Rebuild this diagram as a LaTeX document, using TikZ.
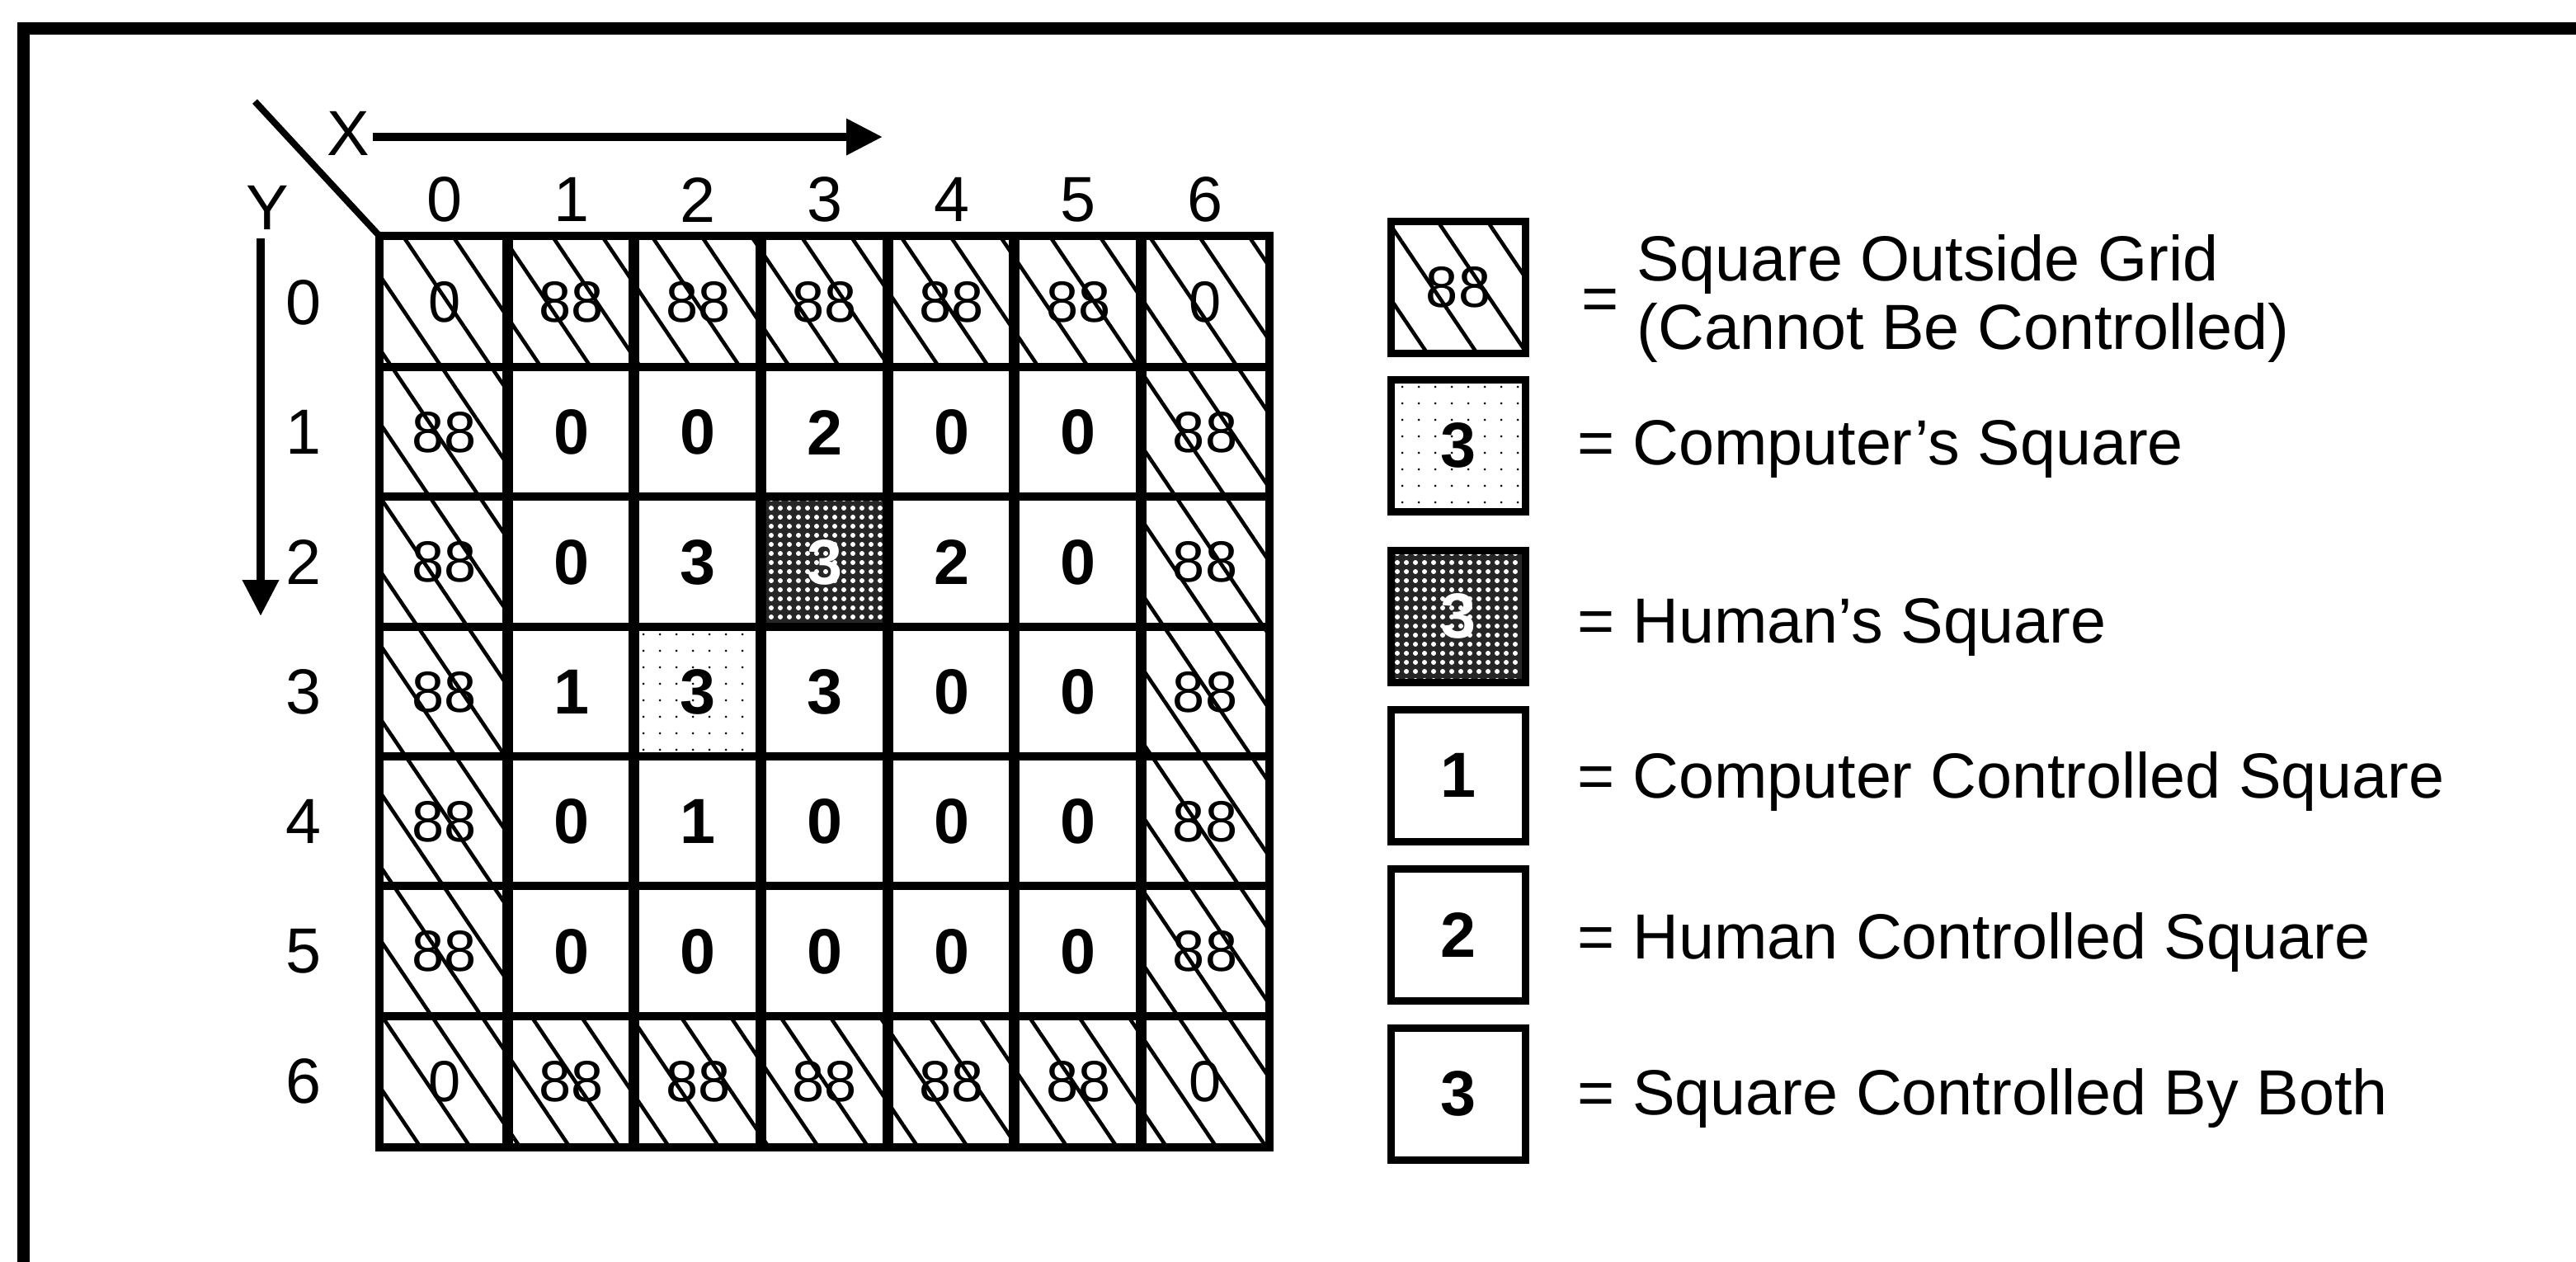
\documentclass[tikz,border=0pt]{standalone}
\usepackage{fontspec}
\setmainfont{Liberation Sans}
\usetikzlibrary{arrows.meta, patterns.meta}

\begin{document}
\begin{tikzpicture}[x=1cm, y=-1cm,
      lbl/.style={font=\fontsize{22}{24}\selectfont, inner sep=0pt},
      rim/.style={minimum width=15.37mm, minimum height=15.74mm, inner sep=0pt,
                  pattern={Lines[angle=-56, distance=5mm, line width=1.3pt]},
                  font=\fontsize{20}{22}\selectfont},
      own/.style={minimum width=15.37mm, minimum height=15.74mm, inner sep=0pt,
                  font=\fontsize{22}{24}\selectfont\bfseries},
      comp/.style={own, pattern={Dots[distance=2mm, radius=0.15mm]}},
      human/.style={own, preaction={fill=black!85},
                    pattern={Dots[distance=1.1mm, radius=0.3mm]},
                    pattern color=white, text=white},
      keybox/.style={draw, line width=0.9mm, minimum width=16.3mm,
                     minimum height=16mm, inner sep=0pt},
      arr/.style={line width=1mm, -{Triangle[length=4.4mm, width=4.2mm]}}]
    \useasboundingbox (0,0) rectangle (31.23,15.29);
    % frame
    \draw[line width=1.5mm] (0.28,15.5) -- (0.28,0.34) -- (31.5,0.34);

    % the board
    \foreach \r [count=\y from 0] in {{0,88,88,88,88,88,0},{88,0,0,2,0,0,88},
        {88,0,3,3,2,0,88},{88,1,3,3,0,0,88},{88,0,1,0,0,0,88},
        {88,0,0,0,0,0,88},{0,88,88,88,88,88,0}}
      \foreach \v [count=\x from 0] in \r {
        \pgfmathtruncatemacro{\onrim}{(\x==0)||(\x==6)||(\y==0)||(\y==6)}
        \ifnum\onrim=1 \def\kind{rim}\else\def\kind{own}\fi
        \ifnum\x\y=32 \def\kind{human}\fi
        \ifnum\x\y=23 \def\kind{comp}\fi
        \node[\kind] (c\x\y) at ({4.62+(\x+0.5)*1.537}, {2.88+(\y+0.5)*1.574}) {\v};
      }
    \foreach \i in {1,...,6}
      \draw[line width=1.3mm] (c\i0.north west) -- (c\i6.south west);
    \foreach \j in {1,...,6}
      \draw[line width=1mm] (c0\j.north west) -- (c6\j.north east);
    \draw[line width=1mm] (c00.north west) rectangle (c66.south east);

    % axes
    \foreach \i in {0,...,6} {
      \node[lbl] (col\i) at ({4.62+(\i+0.5)*1.537}, 2.42) {\i};
      \node[lbl] (row\i) at (3.68, {2.88+(\i+0.5)*1.574}) {\i};
    }
    \node[lbl] (xl) at (4.22,1.62) {X};
    \node[lbl] (yl) at (3.24,2.52) {Y};
    \coordinate (xa) at (4.52,1.66);
    \coordinate (xb) at (10.70,1.66);
    \coordinate (ya) at (3.16,2.89);
    \coordinate (yb) at (3.16,7.47);
    \coordinate (corner) at (3.09,1.23);
    \draw[arr] (xa) -- (xb);
    \draw[arr] (ya) -- (yb);
    \draw[line width=0.8mm] (corner) -- (c00.north west);

    % legend
    \node[rim, keybox]   (k1) at (17.68,3.48)  {88};
    \node[comp, keybox]  (k2) at (17.68,5.40)  {3};
    \node[human, keybox] (k3) at (17.68,7.47)  {3};
    \node[own, keybox]   (k4) at (17.68,9.40)  {1};
    \node[own, keybox]   (k5) at (17.68,11.33) {2};
    \node[own, keybox]   (k6) at (17.68,13.26) {3};
    \node[lbl, anchor=base] (eq1) at (19.40,3.88) {=};
    \node[lbl, anchor=base west] (t1a) at (19.84,3.40) {Square Outside Grid};
    \node[lbl, anchor=base west] (t1b) at (19.84,4.23) {(Cannot Be Controlled)};
    \node[lbl, anchor=base west] (t2) at (19.12,5.63)  {= Computer's Square};
    \node[lbl, anchor=base west] (t3) at (19.12,7.79)  {= Human's Square};
    \node[lbl, anchor=base west] (t4) at (19.12,9.67)  {= Computer Controlled Square};
    \node[lbl, anchor=base west] (t5) at (19.12,11.62) {= Human Controlled Square};
    \node[lbl, anchor=base west] (t6) at (19.12,13.51) {= Square Controlled By Both};
  \end{tikzpicture}
\end{document}
